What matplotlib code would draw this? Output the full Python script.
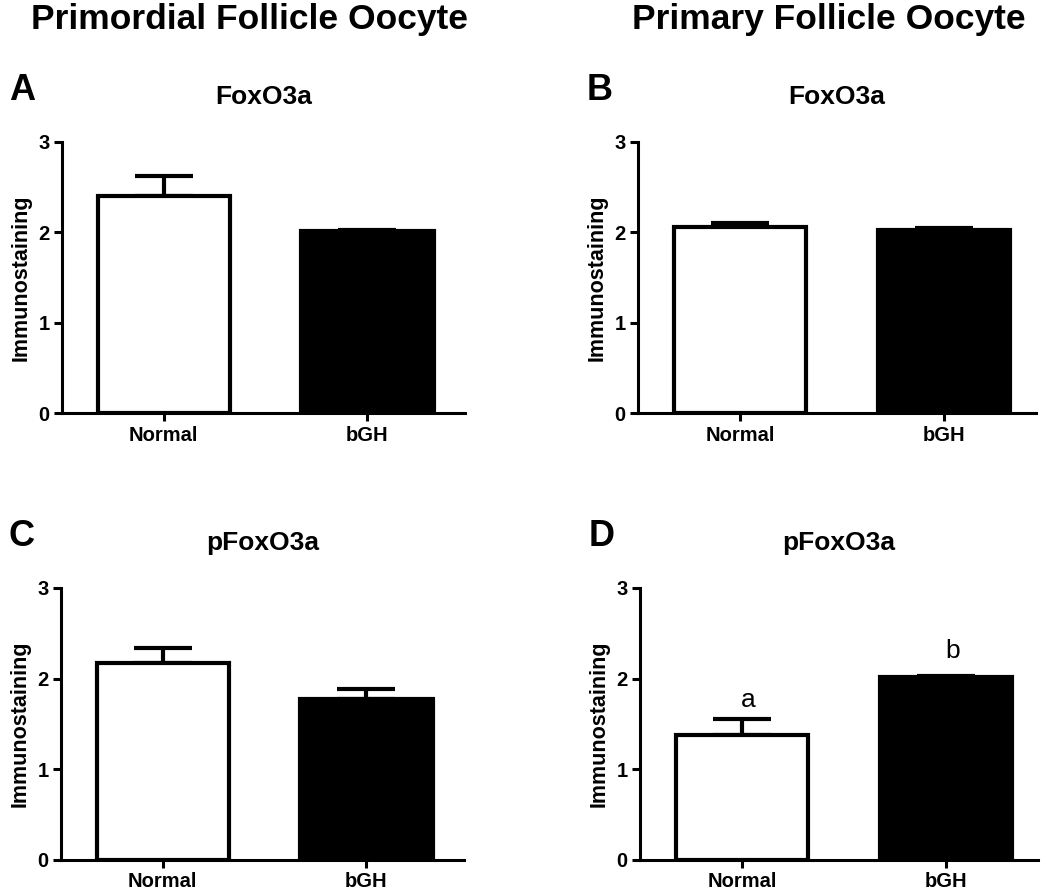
import matplotlib
matplotlib.use("Agg")
import matplotlib.pyplot as plt

plt.rcParams['font.family'] = ['Liberation Sans', 'DejaVu Sans']

groups = ["Normal", "bGH"]
bar_colors = ["white", "black"]

# panel: letter, title, means, upper error
panels = {
    "A": ("FoxO3a", [2.40, 2.02], [0.22, 0.01]),
    "B": ("FoxO3a", [2.06, 2.03], [0.04, 0.02]),
    "C": ("pFoxO3a", [2.17, 1.77], [0.17, 0.12]),
    "D": ("pFoxO3a", [1.38, 2.02], [0.18, 0.01]),
}
sig_letters_D = ["a", "b"]
sig_y_D = [1.76, 2.30]

positions = {
    "A": [0.059, 0.5375, 0.384, 0.3035],
    "B": [0.6076, 0.5375, 0.379, 0.3035],
    "C": [0.058, 0.037, 0.384, 0.3046],
    "D": [0.6095, 0.037, 0.379, 0.3046],
}

fig = plt.figure(figsize=(10.5, 8.93), dpi=100)

for key, (title, means, errs) in panels.items():
    ax = fig.add_axes(positions[key])
    x = range(len(groups))
    ax.bar(x, means, width=0.65, color=bar_colors, edgecolor="black",
           linewidth=3, zorder=3)
    ax.errorbar(x, means, yerr=[[0, 0], errs], fmt="none", ecolor="black",
                elinewidth=3, capsize=21, capthick=3, zorder=2)
    ax.set_ylim(0, 3)
    if key in ("A", "C"):
        ax.set_xlim(-0.5, 1.48)
    else:
        ax.set_xlim(-0.5, 1.45)
    ax.set_yticks([0, 1, 2, 3])
    ax.set_xticks(list(x))
    ax.set_xticklabels(groups, fontsize=14.5, fontweight="bold")
    for lab in ax.get_yticklabels():
        lab.set_fontsize(14.5)
        lab.set_fontweight("bold")
    ax.tick_params(width=2.2, length=6, pad=3)
    for s in ("top", "right"):
        ax.spines[s].set_visible(False)
    for s in ("left", "bottom"):
        ax.spines[s].set_linewidth(2.2)
    ax.set_ylabel("Immunostaining", fontsize=15.5, fontweight="bold", labelpad=5)
    ax.set_title(title, fontsize=19, fontweight="bold", pad=27)
    ax.text(-0.13, 1.19, key, transform=ax.transAxes, fontsize=26,
            fontweight="bold", ha="left", va="center")
    if key == "D":
        for xi, lt, yy in zip(x, sig_letters_D, sig_y_D):
            ax.text(xi + 0.03, yy, lt, fontsize=19, ha="center", va="center")

fig.text(0.238, 0.978, "Primordial Follicle Oocyte", fontsize=25.5,
         fontweight="bold", ha="center", va="center")
fig.text(0.789, 0.978, "Primary Follicle Oocyte", fontsize=25.5,
         fontweight="bold", ha="center", va="center")

fig.savefig("out.png", dpi=100)
